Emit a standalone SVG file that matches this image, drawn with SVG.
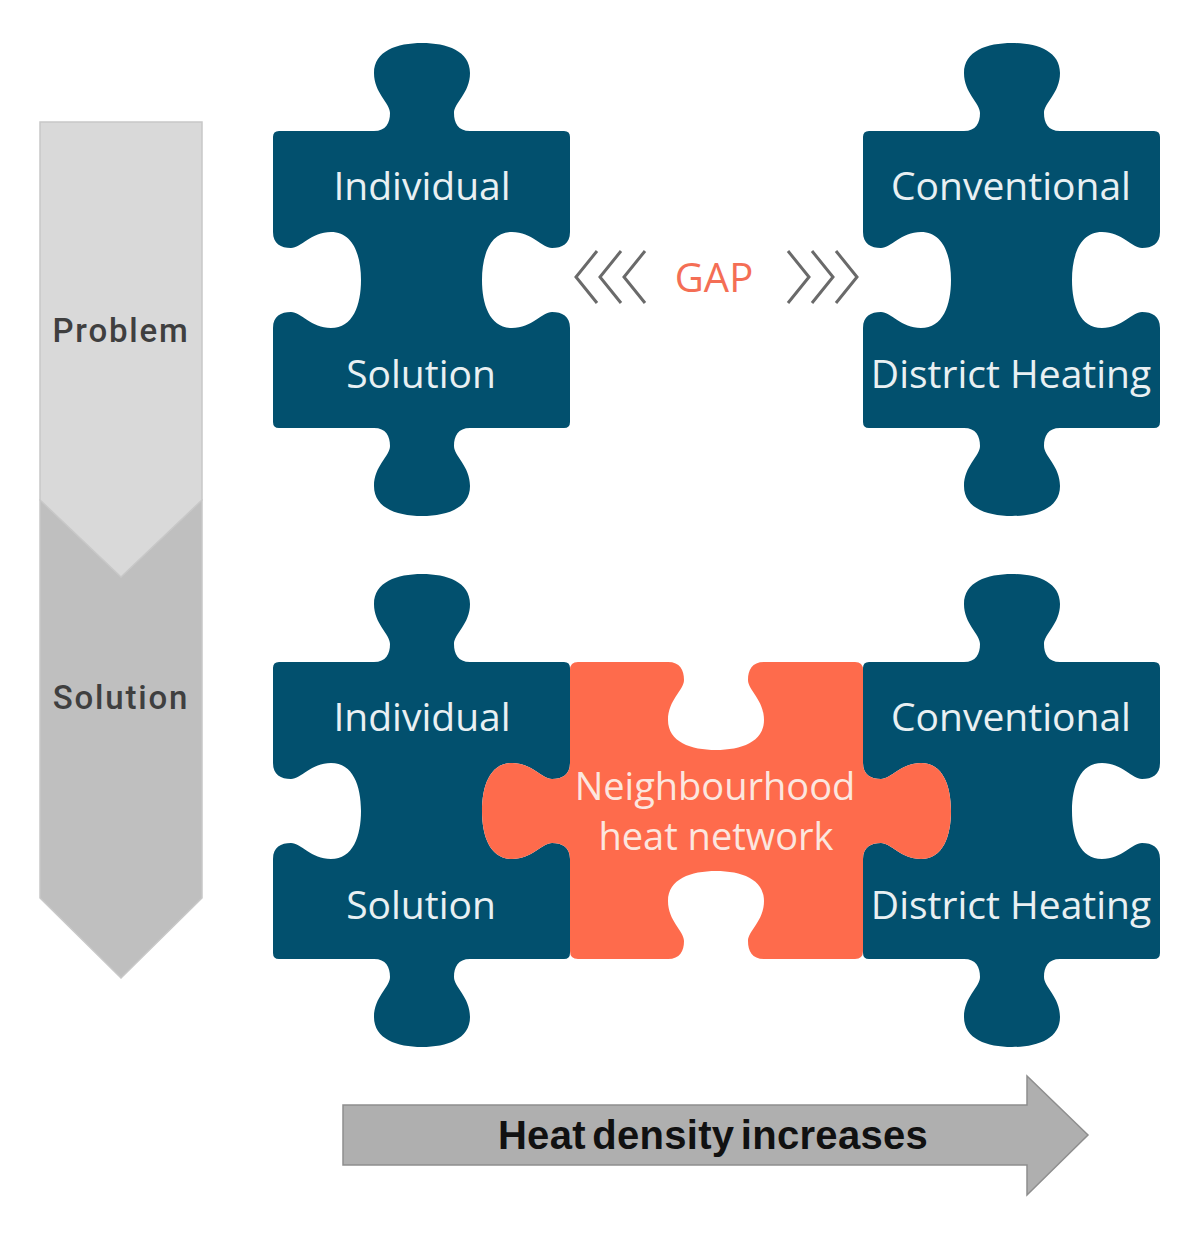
<svg xmlns="http://www.w3.org/2000/svg" xmlns:xlink="http://www.w3.org/1999/xlink" width="1200" height="1239" viewBox="0 0 1200 1239">
  <style>
    .blue { fill: #02506E; }
    .orange { fill: #FE6B4C; }
    .ptxt { font-family: "Open Sans", "Noto Sans", sans-serif; font-size: 39px; fill: #E9F0F3; text-anchor: middle; }
    .otxt { font-family: "Open Sans", "Noto Sans", sans-serif; font-size: 38px; fill: #FCE6DF; text-anchor: middle; }
    .side { font-family: "Roboto", "Liberation Sans", sans-serif; font-size: 33px; fill: #3F3F3F; text-anchor: middle; font-weight: 500; letter-spacing: 1.8px; }
    .chev { fill: none; stroke: #6A6A6A; stroke-width: 3; stroke-linejoin: miter; }
  </style>
  <defs>
    <path id="blue-piece" d="M 6,0 L 101,0 C 113,0 117,-8 117,-18 C 117,-28 101,-38 101,-58 C 101,-80 124,-88 149,-88 C 174,-88 197,-80 197,-58 C 197,-38 181,-28 181,-18 C 181,-8 185,0 197,0 L 291,0 Q 297,0 297,6 L 297,101 C 297,113 289,117 279,117 C 269,117 259,101 239,101 C 217,101 209,124 209,149 C 209,174 217,197 239,197 C 259,197 269,181 279,181 C 289,181 297,185 297,197 L 297,291 Q 297,297 291,297 L 197,297 C 185,297 181,305 181,315 C 181,325 197,335 197,355 C 197,377 174,385 149,385 C 124,385 101,377 101,355 C 101,335 117,325 117,315 C 117,305 113,297 101,297 L 6,297 Q 0,297 0,291 L 0,197 C 0,185 8,181 18,181 C 28,181 38,197 58,197 C 80,197 88,174 88,149 C 88,124 80,101 58,101 C 38,101 28,117 18,117 C 8,117 0,113 0,101 L 0,6 Q 0,0 6,0 Z"/>
  </defs>

  <g id="problem-solution-arrow">
    <polygon points="40,500 202,500 202,898 121,978 40,898" fill="#BFBFBF" stroke="#C8C8C8" stroke-width="1.5"/>
    <polygon points="40,122 202,122 202,500 121,577 40,500" fill="#D9D9D9" stroke="#C8C8C8" stroke-width="1.5"/>
    <text class="side" x="121" y="342">Problem</text>
    <text class="side" x="121" y="709">Solution</text>
  </g>

  <g id="piece-individual-top">
    <use xlink:href="#blue-piece" class="blue" transform="translate(273,131)"/>
    <text class="ptxt" x="422" y="200">Individual</text>
    <text class="ptxt" x="421" y="388">Solution</text>
  </g>
  <g id="piece-conventional-top">
    <use xlink:href="#blue-piece" class="blue" transform="translate(863,131)"/>
    <text class="ptxt" x="1011" y="200">Conventional</text>
    <text class="ptxt" x="1011" y="388">District Heating</text>
  </g>

  <g id="piece-individual-bottom">
    <use xlink:href="#blue-piece" class="blue" transform="translate(273,662)"/>
    <text class="ptxt" x="422" y="731">Individual</text>
    <text class="ptxt" x="421" y="919">Solution</text>
  </g>
  <g id="piece-conventional-bottom">
    <use xlink:href="#blue-piece" class="blue" transform="translate(863,662)"/>
    <text class="ptxt" x="1011" y="731">Conventional</text>
    <text class="ptxt" x="1011" y="919">District Heating</text>
  </g>

  <g id="piece-neighbourhood">
    <path class="orange" transform="translate(570,662)" d="M 8,0 L 98,0 C 110,0 114,8 114,18 C 114,28 98,38 98,58 C 98,80 121,88 146,88 C 171,88 194,80 194,58 C 194,38 178,28 178,18 C 178,8 182,0 194,0 L 285,0 Q 293,0 293,8 L 293,101 C 293,113 301,117 311,117 C 321,117 331,101 351,101 C 373,101 381,124 381,149 C 381,174 373,197 351,197 C 331,197 321,181 311,181 C 301,181 293,185 293,197 L 293,289 Q 293,297 285,297 L 194,297 C 182,297 178,289 178,279 C 178,269 194,259 194,239 C 194,217 171,209 146,209 C 121,209 98,217 98,239 C 98,259 114,269 114,279 C 114,289 110,297 98,297 L 8,297 Q 0,297 0,289 L 0,197 C 0,185 -8,181 -18,181 C -28,181 -38,197 -58,197 C -80,197 -88,174 -88,149 C -88,124 -80,101 -58,101 C -38,101 -28,117 -18,117 C -8,117 0,113 0,101 L 0,8 Q 0,0 8,0 Z"/>
    <text class="otxt" x="715" y="800">Neighbourhood</text>
    <text class="otxt" x="716" y="850">heat network</text>
  </g>

  <g id="gap-label">
    <text x="714" y="292" font-family="'Open Sans', 'Noto Sans', sans-serif" font-size="40" fill="#F46E55" text-anchor="middle">GAP</text>
  </g>

  <g id="connectors">
    <polyline class="chev" points="597,251 576,277 597,303"/>
    <polyline class="chev" points="621,251 600,277 621,303"/>
    <polyline class="chev" points="645,251 624,277 645,303"/>
    <polyline class="chev" points="788,251 809,277 788,303"/>
    <polyline class="chev" points="812,251 833,277 812,303"/>
    <polyline class="chev" points="836,251 857,277 836,303"/>
  </g>

  <g id="heat-density-arrow">
    <polygon points="343,1105 1027,1105 1027,1076 1088,1135 1027,1195 1027,1165 343,1165" fill="#AFAFAF" stroke="#8E8E8E" stroke-width="1.5"/>
    <text x="713" y="1149" font-family="'Liberation Sans', Arial, sans-serif" font-size="40" font-weight="bold" fill="#111111" text-anchor="middle" letter-spacing="0.3" word-spacing="-5">Heat density increases</text>
  </g>
</svg>
